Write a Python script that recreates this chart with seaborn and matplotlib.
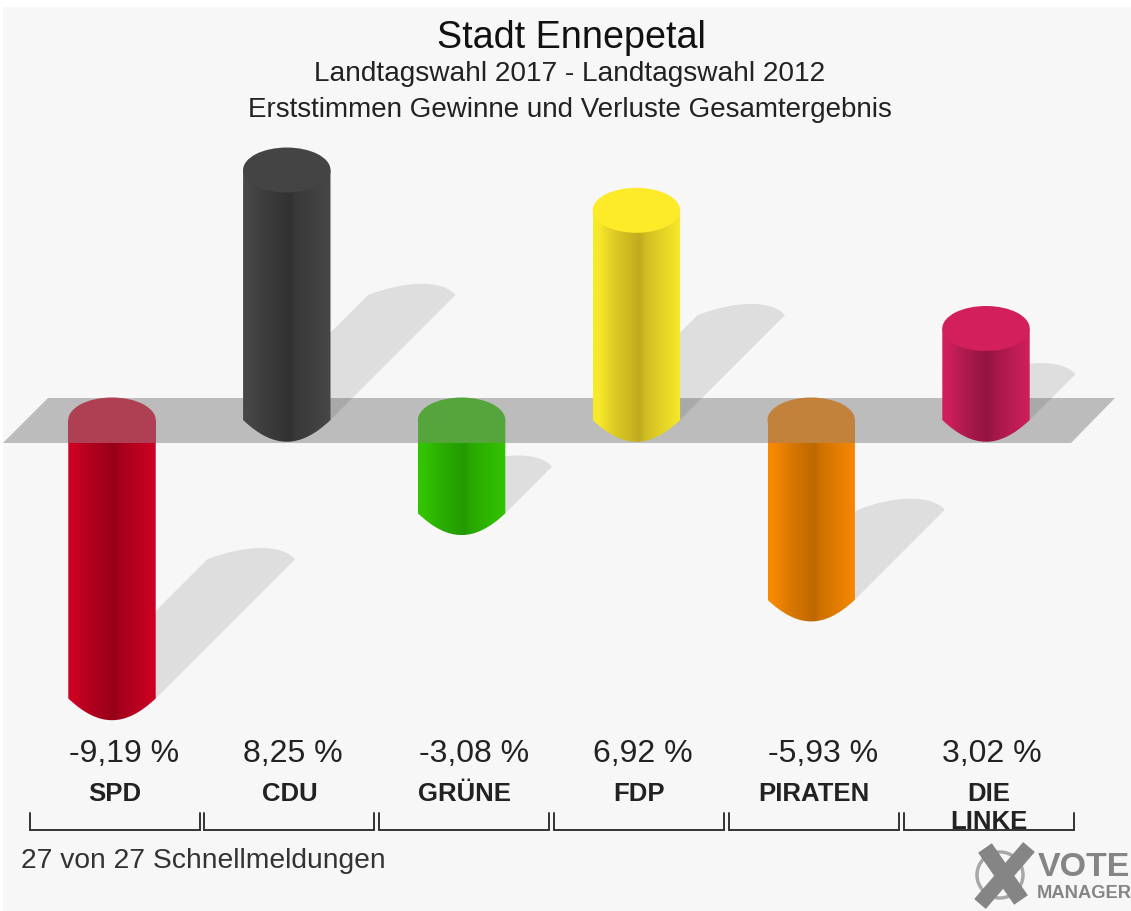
import numpy as np
import matplotlib
matplotlib.use("Agg")
import matplotlib.pyplot as plt
import seaborn as sns
from matplotlib.patches import Ellipse, Polygon, PathPatch, Rectangle
from matplotlib.path import Path

parties = ["SPD", "CDU", "GRÜNE", "FDP", "PIRATEN", "DIE LINKE"]
changes = [-9.19, 8.25, -3.08, 6.92, -5.93, 3.02]
value_labels = ["-9,19 %", "8,25 %", "-3,08 %", "6,92 %", "-5,93 %", "3,02 %"]

title = "Stadt Ennepetal"
subtitle_1 = "Landtagswahl 2017 - Landtagswahl 2012"
subtitle_2 = "Erststimmen Gewinne und Verluste Gesamtergebnis"
footer = "27 von 27 Schnellmeldungen"

# colours per party: side edge, dark middle, flat top, head seen through the plane
edge_colors = ["#cd0023", "#474747", "#33c400", "#f8e92a", "#f78800", "#cf1f5c"]
dark_colors = ["#960019", "#323232", "#239a00", "#c0ab1e", "#bd6800", "#921440"]
top_colors = ["#cd0023", "#444444", "#33c400", "#fdeb2a", "#f78800", "#d41f5d"]
head_colors = ["#af4053", "#444444", "#55a53c", "#fdeb2a", "#c3823c", "#d41f5d"]

# pixel scale of the chart
W, H = 1131, 911
X0, PX_X = 112.0, 174.8   # first bar centre, pixels per category
Y0, PX_Y = 420.0, 30.3    # zero line, pixels per percent
BAR_W = 0.5
CAP = 22.5                # half height of the cylinder ends, pixels


def xd(px):
    return (px - X0) / PX_X


def yd(py):
    return (Y0 - py) / PX_Y


def gradient(edge, dark):
    e = np.array(matplotlib.colors.to_rgb(edge))
    d = np.array(matplotlib.colors.to_rgb(dark))
    t = np.linspace(0, 1, 128)
    k = np.interp(t, [0, 0.06, 0.25, 0.53, 0.6, 0.85, 1], [0, 0, 0.5, 1, 0.7, 0.25, 0])
    return (e[None, :] * (1 - k[:, None]) + d[None, :] * k[:, None])[None, :, :]


def bar_outline(x0, x1, top, bot):
    # rounded underside, a bit pointier than a true ellipse
    w = x1 - x0
    depth = 29 / PX_Y
    verts = [(x0, top), (x1, top), (x1, bot),
             (x0 + 0.65 * w, bot - depth), (x0 + 0.35 * w, bot - depth), (x0, bot),
             (x0, top)]
    codes = [Path.MOVETO, Path.LINETO, Path.LINETO,
             Path.CURVE4, Path.CURVE4, Path.CURVE4,
             Path.CLOSEPOLY]
    return Path(verts, codes)


def shadow_patch(i, value):
    # shadow falls up and right at 45 degrees, half as long as the bar
    length_px = abs(value) * PX_Y / 2
    base = min(value, 0)
    dx = length_px / PX_X
    dy = length_px / PX_Y
    x0, x1 = i - BAR_W / 2, i + BAR_W / 2
    w = x1 - x0
    top = base + dy
    bump = 15 / PX_Y
    verts = [(x0, base), (x1, base), (x1 + dx, top),
             (x0 + dx + 0.85 * w, top + bump), (x0 + dx + 0.45 * w, top + bump), (x0 + dx, top),
             (x0, base)]
    codes = [Path.MOVETO, Path.LINETO, Path.LINETO,
             Path.CURVE4, Path.CURVE4, Path.CURVE4,
             Path.CLOSEPOLY]
    return PathPatch(Path(verts, codes), facecolor="#dedede", edgecolor="none", zorder=1)


sns.set_style("white")
plt.rcParams["font.family"] = ["Liberation Sans", "DejaVu Sans"]

fig = plt.figure(figsize=(W / 100, H / 100), dpi=100, facecolor="white")
ax = fig.add_axes([0, 0, 1, 1])
ax.patch.set_alpha(0)

fig.patches.append(Rectangle((3 / W, 0), 1, 1 - 7 / H, transform=fig.transFigure,
                             facecolor="#f7f7f7", edgecolor="none", zorder=-1))

sns.barplot(x=parties, y=changes, hue=parties, palette=edge_colors, width=BAR_W,
            dodge=False, legend=False, saturation=1, ax=ax, zorder=3)

# grey floor the cylinders stand on
ax.add_patch(Polygon([(xd(3), yd(443)), (xd(1071), yd(443)), (xd(1115), yd(398)), (xd(48), yd(398))],
                     closed=True, facecolor="black", alpha=0.235, edgecolor="none", zorder=2))

cap_h = 2 * CAP / PX_Y
for i, (bar, value) in enumerate(zip(list(ax.patches), changes)):
    x0, x1 = bar.get_x(), bar.get_x() + bar.get_width()
    top, bot = max(value, 0), min(value, 0)
    ax.add_patch(shadow_patch(i, value))

    bar.set_visible(False)
    im = ax.imshow(gradient(edge_colors[i], dark_colors[i]), extent=(x0, x1, bot - 1.2, top),
                   aspect="auto", interpolation="bilinear", zorder=3)
    im.set_clip_path(bar_outline(x0, x1, top, bot), ax.transData)

    if value > 0:
        ax.add_patch(Ellipse((i, value), x1 - x0, cap_h, facecolor=top_colors[i],
                             edgecolor="none", zorder=4))
    else:
        # head of a falling bar sits under the floor colour
        ax.add_patch(Ellipse((i, 0), x1 - x0, cap_h, facecolor=head_colors[i],
                             edgecolor="none", zorder=4))
        ax.add_patch(Rectangle((x0, yd(443)), x1 - x0, yd(420) - yd(443), facecolor=head_colors[i],
                               edgecolor="none", zorder=4))

# brackets under each party
half = 85 / PX_X
for i in range(len(parties)):
    c = i + 2.5 / PX_X
    ax.plot([c - half, c - half, c + half, c + half], [yd(813), yd(830), yd(830), yd(813)],
            color="#333333", lw=1.4, solid_joinstyle="miter", zorder=5)

for i, (label, party) in enumerate(zip(value_labels, parties)):
    shift = 12 if changes[i] < 0 else 6
    ax.text(i + shift / PX_X, yd(754), label, ha="center", va="center", fontsize=23, color="#222222")
    for k, line in enumerate(party.split(" ")):
        ax.text(i + 3 / PX_X, yd(794 + 28 * k), line, ha="center", va="center",
                fontsize=18.5, fontweight="bold", color="#222222", zorder=6)

fig.text(571 / W, 1 - 38 / H, title, ha="center", va="center", fontsize=27.2, color="#111111")
fig.text(570 / W, 1 - 74 / H, subtitle_1, ha="center", va="center", fontsize=20.2, color="#222222")
fig.text(570 / W, 1 - 110 / H, subtitle_2, ha="center", va="center", fontsize=20, color="#222222")
fig.text(21 / W, 1 - 861 / H, footer, ha="left", va="center", fontsize=20.3, color="#333333")

# Vote Manager mark
ax.add_patch(Ellipse((xd(1000), yd(875)), 46 / PX_X, 46 / PX_Y, facecolor="none",
                     edgecolor="#a8a8a8", lw=2.5, zorder=5))
ax.plot([xd(985), xd(1021)], [yd(848), yd(900)], color="#858585", lw=12, solid_capstyle="butt", zorder=6)
ax.plot([xd(1029), xd(980)], [yd(847), yd(904)], color="#858585", lw=11, solid_capstyle="butt", zorder=6)
fig.text(1038 / W, 1 - 868 / H, "VOTE", ha="left", va="center", fontsize=24.5, fontweight="bold", color="#858585")
fig.text(1037 / W, 1 - 894 / H, "MANAGER", ha="left", va="center", fontsize=13.2, fontweight="bold", color="#858585")

ax.set_xlim(xd(0), xd(W))
ax.set_ylim(yd(H), yd(0))
ax.axis("off")

fig.savefig("out.png", dpi=100, facecolor=fig.get_facecolor())
